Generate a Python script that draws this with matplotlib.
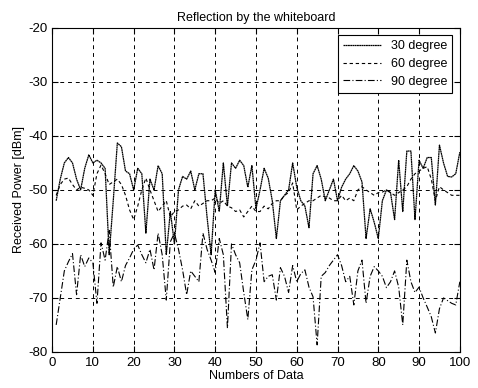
import matplotlib
matplotlib.use("Agg")
import matplotlib.pyplot as plt
import numpy as np

x = list(range(1, 101))

deg30 = [-52, -48, -45, -44, -45, -48, -50, -46, -43.5, -45,
         -44.5, -45, -46, -62, -52, -41.3, -42, -46.5, -47, -50,
         -46, -47, -58, -48, -50, -45.5, -47, -62, -54, -60,
         -50, -47.5, -48, -46.5, -50, -47, -47, -55, -62, -50,
         -54, -45, -53, -45, -46, -44.5, -45.5, -49.5, -45.5, -53.5,
         -50, -46, -47.8, -52, -59, -52, -51, -50, -45, -49.5,
         -52, -53, -57, -47, -45.5, -48, -52, -50, -48, -52,
         -49.5, -48, -47, -45.5, -46.5, -48.5, -59, -53.5, -56, -59,
         -52, -50, -50.5, -55.5, -44.5, -54, -42.8, -42.8, -55.5, -44.5,
         -46, -44, -44, -52.8, -41.7, -45, -47.5, -47.6, -47, -43]

deg60 = [-51, -49, -48, -47.8, -49, -50, -49.5, -49.7, -50, -51,
         -47, -45.4, -47, -49, -48.5, -48, -49, -51, -53.7, -55.5,
         -53, -50, -47.8, -50, -52, -54, -53, -52, -55, -54,
         -53.7, -53, -52.8, -53.5, -52, -53, -52.5, -52, -52, -51.5,
         -52.5, -52, -53, -53.3, -54, -53.7, -55, -54, -53, -54,
         -54, -53, -53.5, -52.5, -52, -52, -51, -50.5, -48.7, -53.7,
         -53, -52.5, -52, -52, -51.5, -51, -51.3, -51.5, -52, -52,
         -51, -52, -51.5, -52, -50, -49.4, -50, -50.5, -51, -50.5,
         -50.4, -50, -50.5, -51, -50.5, -50, -49.4, -48, -47, -46.5,
         -46, -45.7, -48, -52, -49.4, -50, -50.5, -51, -51, -51]

deg90 = [-75, -70, -65, -63.3, -61.8, -69.4, -62, -64.2, -62.6, -63.5,
         -71, -59.8, -63, -57.5, -68, -64.2, -67, -64, -62.6, -61,
         -60.2, -62, -63.5, -61, -64.8, -58, -62, -70.4, -59.6, -58,
         -61, -64.8, -69.4, -65, -66, -67, -58, -61, -63, -65.3,
         -59, -62, -75.6, -60, -62, -63.5, -69, -74, -64.8, -63,
         -59.8, -67, -66, -65.7, -70.4, -64.4, -66, -69, -64, -67,
         -65.5, -64.8, -68, -69.8, -78.7, -66, -65.3, -64, -63, -62,
         -64, -67, -66, -71.3, -65, -63, -71, -66, -64.2, -65,
         -66, -68.1, -67, -65, -68, -75, -63, -67, -69, -68,
         -70, -71.7, -73.5, -76.5, -72, -70, -70.5, -71, -71.3, -67]

labels = ["30 degree", "60 degree", "90 degree"]
xticks = list(range(0, 101, 10))
yticks = list(range(-80, -19, 10))

plt.rcParams['font.family'] = ['Liberation Sans', 'DejaVu Sans']
plt.rcParams['axes.unicode_minus'] = False

fig = plt.figure(figsize=(4.78, 3.88), dpi=100)
ax = fig.add_axes([0.109, 0.093, 0.853, 0.835])

ax.plot(x, deg30, color='black', lw=0.9, linestyle=(0, (1.5, 0.3)), label=labels[0])
ax.plot(x, deg60, color='black', lw=0.8, linestyle=(0, (3, 2.5)), label=labels[1])
ax.plot(x, deg90, color='black', lw=0.8, linestyle=(0, (6, 2, 1, 2)), label=labels[2])

ax.set_xlim(0, 100)
ax.set_ylim(-80, -20)
ax.set_xticks(xticks)
ax.set_yticks(yticks)
ax.tick_params(direction='in', labelsize=9.5, length=4, width=0.8, top=True, right=True)
ax.grid(True, color='black', linestyle=(0, (4, 4)), lw=0.7)
for s in ax.spines.values():
    s.set_linewidth(0.8)

ax.set_title("Reflection by the whiteboard", fontsize=9, pad=5)
ax.set_xlabel("Numbers of Data", fontsize=9, labelpad=1)
ax.set_ylabel("Received Power [dBm]", fontsize=9, labelpad=2)

leg = ax.legend(loc='upper right', fontsize=9, frameon=True, fancybox=False,
                edgecolor='black', framealpha=1, handlelength=3.0,
                borderaxespad=0.6, labelspacing=0.45)
leg.get_frame().set_linewidth(0.8)

fig.savefig("out.png", dpi=100)
